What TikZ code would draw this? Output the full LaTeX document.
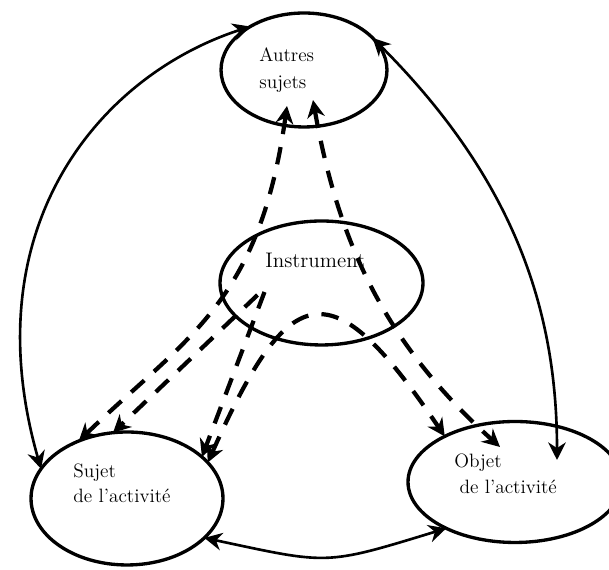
\documentclass[tikz,border=0pt]{standalone}
\usepackage{fontspec}
\usepackage{tikz}
\usetikzlibrary{arrows.meta, shapes.geometric}

\begin{document}
\begin{tikzpicture}[x=0.02cm, y=0.02cm,
    >={Stealth[length=10pt, width=10pt]},
    ell/.style={ellipse, draw, line width=1.9pt, inner sep=0pt, outer sep=0pt},
    lien/.style={line width=1.5pt, <->},
    medi/.style={line width=2.4pt, dash pattern=on 10pt off 7.5pt},
    lbl/.style={anchor=north west, inner sep=0pt, align=left, font=\fontsize{11}{15.4}\selectfont}]
    \useasboundingbox (0,0) rectangle (609,570);

    % 椭圆
    \node[ell, minimum width=3.32cm, minimum height=2.28cm] (autres) at (304,500) {};
    \node[ell, minimum width=4.06cm, minimum height=2.48cm] (instr) at (321.5,287) {};
    \node[ell, minimum width=3.84cm, minimum height=2.66cm] (sujet) at (127,71.5) {};
    \node[ell, minimum width=4.28cm, minimum height=2.42cm] (objet) at (515,88) {};

    % 文字
    \node[lbl] (tAutres) at (259,523) {Autres\\sujets};
    \node[lbl, anchor=base west, font=\fontsize{12}{14}\selectfont] (tInstr) at (265,302) {Instrument};
    \node[lbl, font=\fontsize{11}{14.2}\selectfont] (tSujet) at (73,106) {Sujet\\de l'activité};
    \node[lbl, font=\fontsize{11}{14.8}\selectfont] (tObjet) at (454,116) {Objet\\\hspace{3pt}de l'activité};

    % 实线箭头
    \draw[lien] (sujet.161) .. controls +(106:250) and +(198:160) .. (autres.141);
    \draw[lien] (autres.25) .. controls +(-45:200) and +(90:150) .. ([shift={(42,22)}]objet.center);
    \draw[lien] (sujet.-27) .. controls +(-12:128) and +(197:128) .. (objet.214);

    % 虚线箭头（经由工具）
    \draw[medi, <->] ([shift={(-17,-36)}]autres.center) .. controls +(-98:200) and +(44:150) .. (sujet.130);
    \draw[medi, ->] ([shift={(-64,-12)}]instr.center) -- (sujet.102);
    \draw[medi, ->] ([shift={(-57,-9)}]instr.center) -- (sujet.29);
    \draw[medi, <->] (sujet.24) .. controls +(66:203) and +(124:203) .. (objet.147);
    \draw[medi, <->] ([shift={(9,-30)}]autres.center) .. controls +(-80:150) and +(138:150) .. ([shift={(-15,35)}]objet.center);
\end{tikzpicture}
\end{document}
